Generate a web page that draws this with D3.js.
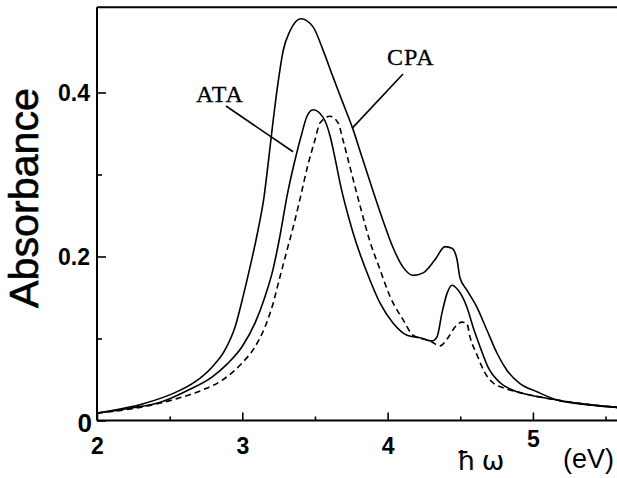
<!DOCTYPE html>
<html>
<head>
<meta charset="utf-8">
<script src="https://cdn.jsdelivr.net/npm/d3@7"></script>
<style>
  body { margin: 0; background: #fff; }
  svg { display: block; }
</style>
</head>
<body>
<div id="chart"></div>
<script>
var w = 617;
var h = 478;

// photon energy (eV) and absorbance
const cpaX = [2.000, 2.330, 2.537, 2.674, 2.791, 2.881, 2.950, 3.005, 3.053, 3.108, 3.149, 3.177, 3.211, 3.246, 3.280, 3.328, 3.404, 3.487, 3.555, 3.624, 3.693, 3.762, 3.824, 3.968, 4.037, 4.106, 4.175, 4.244, 4.326, 4.395, 4.443, 4.478, 4.498, 4.546, 4.615, 4.684, 4.753, 4.822, 4.911, 5.028, 5.166, 5.393, 5.579];
const cpaY = [0.009, 0.021, 0.034, 0.047, 0.065, 0.086, 0.114, 0.151, 0.187, 0.232, 0.272, 0.312, 0.364, 0.412, 0.450, 0.475, 0.490, 0.480, 0.452, 0.419, 0.387, 0.355, 0.321, 0.244, 0.211, 0.187, 0.177, 0.180, 0.196, 0.212, 0.210, 0.196, 0.174, 0.159, 0.138, 0.110, 0.082, 0.061, 0.045, 0.035, 0.025, 0.019, 0.016];

const ataX = [2.000, 2.227, 2.447, 2.626, 2.791, 2.902, 2.998, 3.088, 3.156, 3.211, 3.259, 3.308, 3.363, 3.411, 3.445, 3.487, 3.555, 3.604, 3.638, 3.672, 3.762, 3.879, 3.948, 4.037, 4.134, 4.223, 4.306, 4.340, 4.374, 4.409, 4.443, 4.485, 4.546, 4.588, 4.636, 4.691, 4.774, 4.863, 4.980, 5.166, 5.393, 5.579];
const ataY = [0.009, 0.015, 0.023, 0.037, 0.053, 0.070, 0.090, 0.119, 0.151, 0.184, 0.225, 0.274, 0.318, 0.351, 0.371, 0.379, 0.370, 0.347, 0.320, 0.290, 0.229, 0.171, 0.143, 0.119, 0.104, 0.101, 0.097, 0.102, 0.131, 0.155, 0.165, 0.159, 0.138, 0.114, 0.090, 0.065, 0.046, 0.037, 0.031, 0.025, 0.019, 0.016];

const exactX = [2.000, 2.296, 2.557, 2.723, 2.860, 2.998, 3.088, 3.156, 3.204, 3.259, 3.308, 3.349, 3.397, 3.452, 3.500, 3.535, 3.604, 3.659, 3.693, 3.741, 3.810, 3.879, 3.948, 4.017, 4.106, 4.175, 4.292, 4.361, 4.416, 4.464, 4.512, 4.546, 4.567, 4.615, 4.670, 4.725, 4.794, 4.911, 5.166, 5.579];
const exactY = [0.009, 0.016, 0.027, 0.037, 0.049, 0.070, 0.090, 0.114, 0.138, 0.175, 0.208, 0.235, 0.270, 0.312, 0.342, 0.363, 0.371, 0.363, 0.342, 0.309, 0.262, 0.218, 0.184, 0.151, 0.123, 0.104, 0.097, 0.091, 0.101, 0.114, 0.120, 0.118, 0.102, 0.080, 0.058, 0.046, 0.040, 0.034, 0.025, 0.016];

const xMajor = [2, 3, 4, 5];
const xMinor = [2.5, 3.5, 4.5, 5.5];
const yMajor = [0, 0.2, 0.4];
const yMinor = [0.1, 0.3];
const yLabels = ["0", "0.2", "0.4"];

// the canvas
const svg = d3.select("#chart")
    .append("svg")
    .attr("width", w)
    .attr("height", h);

const x = d3.scaleLinear().domain([2, 5.58]).range([97, 617.2]);
const y = d3.scaleLinear().domain([0, 0.504]).range([420.5, 7.2]);

// frame: top line
svg.append("line")
    .attr("x1", x(2)).attr("x2", w)
    .attr("y1", y(0.504)).attr("y2", y(0.504))
    .attr("stroke", "#000")
    .attr("stroke-width", 2);

// minor ticks
svg.append("g")
    .attr("transform", "translate(0," + y(0) + ")")
    .call(d3.axisBottom(x).tickValues(xMinor).tickSize(-4).tickFormat(""))
    .call(g => g.select(".domain").remove());
svg.append("g")
    .attr("transform", "translate(" + x(2) + ",0)")
    .call(d3.axisLeft(y).tickValues(yMinor).tickSize(-5).tickFormat(""))
    .call(g => g.select(".domain").remove());

// x axis
const xAxis = svg.append("g")
    .attr("transform", "translate(0," + y(0) + ")")
    .call(d3.axisBottom(x).tickValues(xMajor).tickSize(-8).tickSizeOuter(0).tickPadding(17).tickFormat(d3.format("d")));
xAxis.select(".domain").attr("d", "M" + x(2) + ",0H" + w);
xAxis.selectAll("text")
    .attr("font-family", "'Liberation Sans', Arial, sans-serif")
    .attr("font-size", 23)
    .attr("font-weight", "bold")
    .attr("y", d => d == 5 ? 10 : 17);

// y axis
const yAxis = svg.append("g")
    .attr("transform", "translate(" + x(2) + ",0)")
    .call(d3.axisLeft(y).tickValues(yMajor).tickSize(-9).tickSizeOuter(0).tickPadding(7)
        .tickFormat((d, i) => yLabels[i]));
yAxis.select(".domain").attr("d", "M0," + y(0) + "V" + y(0.504));
yAxis.selectAll("text")
    .attr("font-family", "'Liberation Sans', Arial, sans-serif")
    .attr("font-size", d => d == 0 ? 26 : 23)
    .attr("font-weight", "bold")
    .attr("x", d => d == 0 ? -5 : -7)
    .attr("dy", d => d == 0 ? "0.42em" : "0.36em");

svg.selectAll(".domain").attr("stroke-width", 2);
svg.selectAll(".tick line").attr("stroke-width", 1.6);

// the three curves
const line = d3.line()
    .x(d => x(d[0]))
    .y(d => y(d[1]))
    .curve(d3.curveMonotoneX);

const series = [
    { xs: cpaX, ys: cpaY, dash: null },
    { xs: ataX, ys: ataY, dash: null },
    { xs: exactX, ys: exactY, dash: "6,4" }
];

series.forEach(function(s){
    svg.append("path")
        .datum(s.xs.map((v, i) => [v, s.ys[i]]))
        .attr("d", line)
        .attr("fill", "none")
        .attr("stroke", "#000")
        .attr("stroke-width", 1.6)
        .attr("stroke-dasharray", s.dash);
});

// labels with leader lines
svg.append("text")
    .attr("x", 196).attr("y", 102)
    .attr("font-family", "'Liberation Serif', 'Times New Roman', serif")
    .attr("font-size", 24)
    .attr("letter-spacing", 1)
    .attr("stroke", "#000")
    .attr("stroke-width", 0.3)
    .text("ATA");
svg.append("line")
    .attr("x1", 226).attr("y1", 106)
    .attr("x2", x(3.363) - 2).attr("y2", y(0.318) - 8)
    .attr("stroke", "#000").attr("stroke-width", 1.6);

svg.append("text")
    .attr("x", 387).attr("y", 65)
    .attr("font-family", "'Liberation Serif', 'Times New Roman', serif")
    .attr("font-size", 24)
    .attr("letter-spacing", 1)
    .attr("stroke", "#000")
    .attr("stroke-width", 0.3)
    .text("CPA");
svg.append("line")
    .attr("x1", 403).attr("y1", 74)
    .attr("x2", x(3.762) - 1).attr("y2", y(0.355) - 1)
    .attr("stroke", "#000").attr("stroke-width", 1.6);

// axis titles
svg.append("text")
    .attr("transform", "translate(38,198) rotate(-90)")
    .attr("text-anchor", "middle")
    .attr("font-family", "'Liberation Sans', Arial, sans-serif")
    .attr("font-size", 40)
    .attr("stroke", "#000")
    .attr("stroke-width", 0.6)
    .attr("textLength", 220)
    .attr("lengthAdjust", "spacingAndGlyphs")
    .text("Absorbance");

svg.append("text")
    .attr("x", 457).attr("y", 470)
    .attr("font-family", "'DejaVu Sans', 'Liberation Sans', sans-serif")
    .attr("font-size", 27)
    .attr("letter-spacing", 6)
    .text("ħω");

svg.append("text")
    .attr("x", 563).attr("y", 468)
    .attr("font-family", "'Liberation Sans', Arial, sans-serif")
    .attr("font-size", 27)
    .text("(eV)");
</script>
</body>
</html>
